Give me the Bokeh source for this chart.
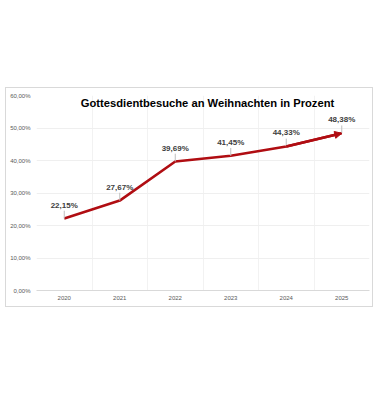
from bokeh.plotting import figure
from bokeh.models import FixedTicker, Label, Arrow, NormalHead, ColumnDataSource, LabelSet
from bokeh.core.properties import value
from bokeh.embed import file_html
from bokeh.resources import INLINE

years = ["2020", "2021", "2022", "2023", "2024", "2025"]
values = [22.15, 27.67, 39.69, 41.45, 44.33, 48.38]
value_labels = ["22,15%", "27,67%", "39,69%", "41,45%", "44,33%", "48,38%"]
y_ticks = [0, 10, 20, 30, 40, 50, 60]
y_tick_labels = ["0,00%", "10,00%", "20,00%", "30,00%", "40,00%", "50,00%", "60,00%"]
title_text = "Gottesdientbesuche an Weihnachten in Prozent"

xs = list(range(len(years)))
FONT = "Liberation Sans"
RED = "#b00d12"

p = figure(width=368, height=220, output_backend="svg", toolbar_location=None,
           x_range=(-0.5, len(years) - 0.5), y_range=(0, 60),
           min_border_left=30, min_border_right=5, min_border_top=7, min_border_bottom=18,
           margin=(87, 0, 0, 5))
p.styles = {"border": "1px solid #d9d9d9"}
p.outline_line_color = None
p.background_fill_color = "white"
p.border_fill_color = "white"

# axes
p.yaxis.ticker = FixedTicker(ticks=y_ticks)
p.yaxis.major_label_overrides = {t: l for t, l in zip(y_ticks, y_tick_labels)}
p.xaxis.ticker = FixedTicker(ticks=xs)
p.xaxis.major_label_overrides = {i: y for i, y in zip(xs, years)}
for ax in (p.xaxis[0], p.yaxis[0]):
    ax.major_tick_line_color = None
    ax.minor_tick_line_color = None
    ax.major_tick_out = 0
    ax.major_tick_in = 0
    ax.major_label_text_font = FONT
    ax.major_label_text_font_size = "6px"
    ax.major_label_text_color = "#595959"
p.yaxis.axis_line_color = None
p.xaxis.axis_line_color = "#d9d9d9"
p.yaxis.major_label_standoff = 6
p.xaxis.major_label_standoff = 5

p.ygrid.ticker = FixedTicker(ticks=y_ticks)
p.ygrid.grid_line_color = "#efefef"
p.xgrid.ticker = FixedTicker(ticks=[i - 0.5 for i in range(len(years) + 1)])
p.xgrid.grid_line_color = "#f2f2f2"

# line + arrow head
p.line(xs, values, line_color=RED, line_width=2.6)
p.add_layout(Arrow(end=NormalHead(size=7, fill_color=RED, line_color=RED),
                   x_start=xs[-2], y_start=values[-2], x_end=xs[-1], y_end=values[-1],
                   line_color=RED, line_width=2.6))

# leader lines and value labels
p.segment(x0=xs, y0=values, x1=xs, y1=[v + 2.4 for v in values], line_color="#bfbfbf", line_width=1)
src = ColumnDataSource(dict(x=xs, y=values, t=value_labels))
p.add_layout(LabelSet(x="x", y="y", text="t", source=src, y_offset=9,
                      text_align="center", text_baseline="bottom",
                      text_font=value(FONT), text_font_size="8px", text_font_style="bold",
                      text_color="#404040"))

# title inside plot (screen units relative to frame)
p.add_layout(Label(x=171, y=188, x_units="screen", y_units="screen",
                   text=title_text, text_align="center", text_baseline="middle",
                   text_font=FONT, text_font_size="11.2px", text_font_style="bold",
                   text_color="#000000"))

open("out.html", "w").write(file_html(p, INLINE))
